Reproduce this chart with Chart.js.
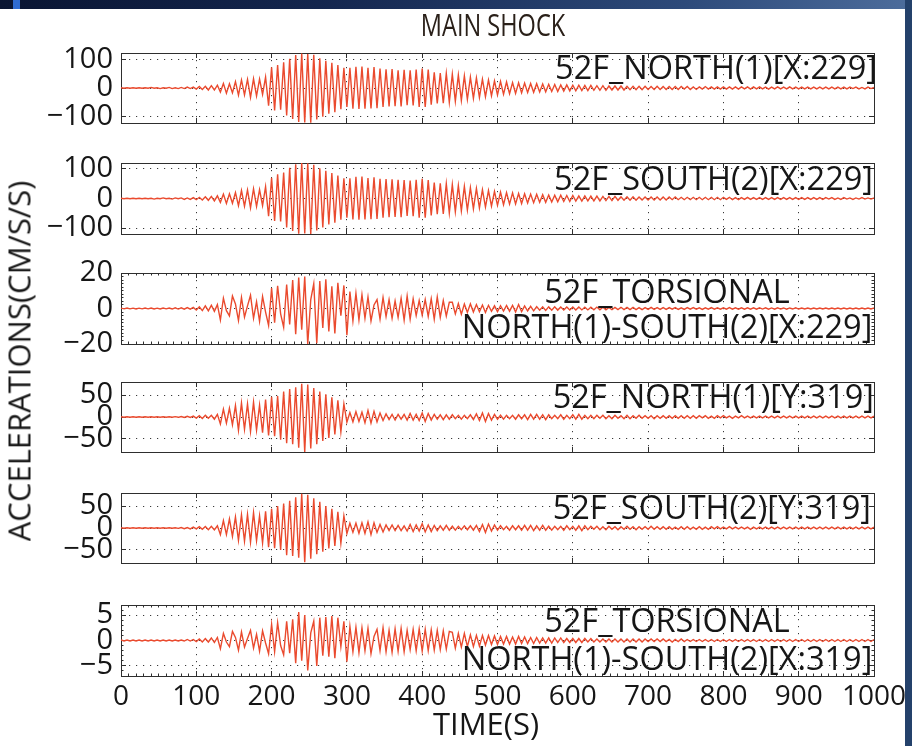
<!DOCTYPE html>
<html>
<head>
<meta charset="utf-8">
<script src="https://cdn.jsdelivr.net/npm/chart.js@4.4.1/dist/chart.umd.min.js"></script>
<style>
html,body{margin:0;padding:0;background:#fff;}
body{width:912px;height:746px;position:relative;overflow:hidden;font-family:'Open Sans',sans-serif;}
canvas{position:absolute;left:0;}
.t{position:absolute;color:#161616;white-space:nowrap;line-height:1;font-family:'Open Sans',sans-serif;}
#topbar{position:absolute;left:0;top:0;width:912px;height:9px;background:linear-gradient(to right,#0a1532 0%,#14264e 35%,#2d4a7a 75%,#4d6d9c 100%);}
#topmark{position:absolute;left:13px;top:0;width:7px;height:9px;background:#2f6bd0;}
#rightbar{position:absolute;left:905px;top:0;width:7px;height:746px;background:#24416b;}
</style>
</head>
<body>
<div id="topbar"></div><div id="topmark"></div><div id="rightbar"></div>
<div id="charts"></div>
<div class="t" style="left:493px;top:9px;font-size:31px;color:#2a2019;transform:translateX(-50%) scaleX(0.76);">MAIN SHOCK</div>
<div class="t" style="right:35px;top:51px;font-size:32.5px;">52F_NORTH(1)[X:229]</div>
<div class="t" style="right:39px;top:162px;font-size:32.5px;">52F_SOUTH(2)[X:229]</div>
<div class="t" style="left:667px;top:273px;font-size:32.5px;line-height:35px;text-align:center;transform:translateX(-50%);">52F_TORSIONAL<br>NORTH(1)-SOUTH(2)[X:229]</div>
<div class="t" style="right:38px;top:380px;font-size:32.5px;">52F_NORTH(1)[Y:319]</div>
<div class="t" style="right:41px;top:491px;font-size:32.5px;">52F_SOUTH(2)[Y:319]</div>
<div class="t" style="left:667px;top:601px;font-size:32.5px;line-height:38px;text-align:center;transform:translateX(-50%);">52F_TORSIONAL<br>NORTH(1)-SOUTH(2)[X:319]</div>
<div class="t" style="left:19px;top:361px;font-size:31px;transform:translate(-50%,-50%) rotate(-90deg);">ACCELERATIONS(CM/S/S)</div>
<div class="t" style="left:486px;top:708px;font-size:31px;transform:translateX(-50%);">TIME(S)</div>
<script>
// ---- data ----
const STEP = 4; // seconds between successive samples
const TIME_TICKS = [0,100,200,300,400,500,600,700,800,900,1000];

const NORTH1_X = [
1,-1,1,-1,1,-1,1,-1,1,-1,
2,-1,1,-2,1,-1,2,-2,1,-2,
2,-2,3,-2,3,-4,5,-5,6,-7,
8,-7,10,-14,16,-18,15,-17,22,-25,
28,-24,30,-33,32,-28,31,-22,38,-62,
72,-78,80,-76,90,-96,102,-108,115,-118,
120,-120,118,-121,116,-110,104,-100,95,-90,
88,-84,80,-74,70,-66,70,-72,74,-73,
75,-72,70,-71,73,-70,68,-66,65,-64,
66,-63,62,-64,63,-60,62,-61,64,-66,
68,-66,64,-58,55,-54,52,-53,51,-50,
48,-46,45,-43,42,-40,38,-36,35,-33,
31,-30,28,-27,25,-24,23,-22,21,-20,
19,-19,18,-17,17,-16,16,-15,15,-14,
14,-13,13,-12,12,-12,11,-11,11,-10,
10,-10,10,-9,9,-9,9,-8,8,-8,
8,-8,7,-7,7,-7,7,-7,6,-6,
6,-6,6,-6,6,-5,5,-5,6,-5,
5,-5,5,-5,5,-5,5,-4,5,-5,
4,-5,4,-4,5,-4,4,-4,4,-4,
4,-4,4,-4,4,-4,4,-3,4,-4,
4,-3,4,-3,3,-4,3,-3,4,-3,
3,-3,4,-3,3,-3,3,-3,3,-3,
3,-3,3,-3,3,-3,3,-3,3,-3,
3,-3,3,-2,3,-3,2,-3,3,-2,
2];

const SOUTH2_X = [
1,-1,1,-1,1,-1,1,-1,1,-1,
1,-2,1,-1,2,-1,1,-2,2,-1,
2,-3,2,-3,3,-4,4,-5,6,-6,
7,-8,9,-13,15,-17,16,-16,20,-24,
27,-26,29,-32,33,-27,30,-24,40,-60,
70,-76,82,-78,88,-98,104,-110,116,-119,
121,-118,119,-120,114,-108,102,-98,94,-88,
86,-82,78,-72,68,-65,68,-71,73,-72,
74,-71,69,-70,72,-69,67,-65,66,-63,
65,-62,63,-63,62,-59,61,-60,63,-65,
67,-65,62,-57,54,-53,51,-52,50,-49,
47,-45,44,-42,41,-39,37,-35,34,-32,
30,-29,27,-26,24,-23,22,-21,20,-19,
19,-18,17,-17,16,-15,15,-14,14,-13,
13,-13,12,-12,11,-11,11,-10,10,-10,
10,-9,9,-9,9,-8,8,-8,8,-8,
7,-7,7,-7,7,-6,6,-6,6,-6,
6,-6,5,-5,5,-5,5,-5,5,-5,
5,-5,5,-4,5,-4,4,-4,4,-4,
4,-4,4,-4,4,-4,4,-4,4,-4,
4,-3,4,-4,3,-4,3,-3,4,-3,
3,-3,3,-3,3,-3,3,-3,3,-3,
3,-3,3,-3,3,-3,3,-3,3,-3,
3,-3,3,-3,3,-2,3,-3,2,-3,
3,-2,2,-3,2,-2,3,-2,2,-2,
2];

const TORSION_X = [
0.2,-0.2,0.3,-0.2,0.2,-0.3,0.2,-0.2,0.3,-0.2,
0.3,-0.3,0.2,-0.3,0.3,-0.2,0.3,-0.3,0.4,-0.3,
0.4,-0.4,0.5,-0.4,0.6,-0.8,1.0,-1.2,1.5,-1.3,
1.8,-1.6,2.2,-6.5,5.8,-1.2,-4.2,7.0,2.5,-6.8,
6.2,-4.8,1.5,7.5,-5.5,3.8,-7.2,6.8,-2.0,-9.5,
11.5,-8.0,12.8,-3.0,-10.5,13.5,-9.0,16.0,-14.5,17.5,
-12.0,18.0,-20.0,5.0,14.0,-19.5,15.5,-11.0,16.5,-13.0,
12.5,-14.0,14.5,-4.0,13.0,-15.0,9.5,-7.0,8.5,-6.5,
7.8,-5.5,6.5,-7.0,2.0,5.0,-6.0,6.2,-4.5,5.0,
-5.5,4.2,-5.0,5.8,-6.5,7.0,-6.0,5.5,-4.0,4.5,
-3.8,5.0,-4.5,5.5,-6.0,6.5,-5.0,4.5,-4.2,3.5,
3.5,-3.0,2.8,-3.2,2.5,-2.2,2.6,-2.0,2.2,-1.8,
2.0,-2.2,1.8,-1.6,1.5,-1.8,1.6,-1.4,1.7,-1.5,
1.8,-2.0,2.2,-1.8,1.5,-1.4,1.2,-1.3,1.1,-1.0,
1.0,-1.1,0.9,-1.0,1.0,-0.9,0.9,-0.8,0.9,-0.8,
0.8,-0.9,0.8,-0.8,0.7,-0.8,0.7,-0.7,0.8,-0.7,
0.7,-0.7,0.6,-0.7,0.6,-0.6,0.7,-0.6,0.6,-0.6,
0.6,-0.6,0.5,-0.6,0.5,-0.5,0.6,-0.5,0.5,-0.5,
0.5,-0.5,0.5,-0.4,0.5,-0.5,0.4,-0.5,0.5,-0.4,
0.5,-0.4,0.4,-0.5,0.4,-0.4,0.5,-0.4,0.4,-0.4,
0.4,-0.4,0.5,-0.4,0.4,-0.4,0.4,-0.4,0.4,-0.4,
0.4,-0.4,0.4,-0.3,0.4,-0.4,0.3,-0.4,0.4,-0.3,
0.3,-0.4,0.3,-0.3,0.4,-0.3,0.3,-0.3,0.3,-0.3,
0.3,-0.3,0.3,-0.3,0.3,-0.3,0.3,-0.3,0.3,-0.3,
0.3,-0.3,0.3,-0.3,0.3,-0.3,0.3,-0.3,0.3,-0.3,
0.3];

const NORTH1_Y = [
0.5,-0.5,0.5,-0.5,0.5,-0.5,0.5,-0.5,0.5,-0.5,
0.6,-0.5,0.6,-0.6,0.5,-0.6,0.7,-0.6,0.8,-0.7,
1,-1,1.5,-1,2,-2.5,3,-3.5,4,-3,
4,-5,6,-16,18,-14,20,-18,26,-30,
32,-28,30,-33,34,-30,27,-36,40,-42,
46,-44,48,-52,58,-60,64,-62,68,-70,
76,-80,74,-72,66,-62,58,-55,52,-48,
45,-40,38,-34,30,-12,10,-11,12,-10,
11,-13,15,-14,13,-11,9,-8,7,-6,
6,-7,6,-5,6,-7,8,-7,6,-8,
9,-10,8,-7,6,-5,5,-6,5,-5,
5,-4,4,-5,4,-4,5,-6,7,-8,
9,-10,8,-7,6,-5,4,-5,4,-4,
4,-5,5,-4,5,-6,6,-5,6,-5,
5,-6,5,-4,4,-4,5,-5,4,-4,
5,-5,6,-5,4,-4,4,-4,4,-3,
4,-4,3,-4,4,-3,3,-4,4,-4,
3,-3,4,-3,3,-3,3,-4,3,-3,
3,-3,3,-3,3,-3,3,-3,3,-3,
3,-3,3,-2,3,-3,2,-3,3,-2,
3,-2,2,-3,2,-2,3,-2,2,-2,
2,-2,2,-2,2,-2,2,-2,2,-2,
2,-2,2,-2,2,-2,2,-2,2,-2,
2,-2,2,-2,2,-2,2,-2,2,-2,
2,-2,2,-2,2,-2,2,-2,2,-2,
2];

const SOUTH2_Y = [
0.5,-0.5,0.5,-0.5,0.5,-0.5,0.5,-0.5,0.5,-0.5,
0.5,-0.6,0.6,-0.5,0.6,-0.6,0.6,-0.7,0.7,-0.8,
1,-1.5,1,-2,2,-2,3,-3,3.5,-4,
4,-4.5,5,-15,17,-15,21,-19,25,-28,
30,-30,31,-32,35,-29,28,-34,38,-44,
44,-46,50,-50,56,-62,62,-64,70,-68,
78,-78,76,-70,68,-60,60,-54,50,-47,
44,-41,37,-35,28,-13,11,-10,11,-12,
12,-12,14,-15,12,-10,8,-9,7,-6,
7,-6,6,-6,5,-7,8,-8,7,-7,
10,-9,7,-8,6,-6,5,-5,6,-5,
4,-5,4,-4,5,-4,5,-5,6,-8,
8,-10,9,-7,7,-5,5,-4,4,-5,
5,-4,5,-5,6,-5,6,-6,5,-5,
6,-5,4,-5,4,-4,4,-5,5,-4,
4,-5,5,-6,5,-4,4,-3,4,-4,
3,-4,4,-3,3,-4,3,-3,4,-3,
3,-4,3,-3,3,-3,4,-3,3,-3,
3,-3,3,-3,2,-3,3,-3,3,-3,
2,-3,3,-3,2,-3,3,-2,3,-2,
2,-2,3,-2,2,-2,2,-2,2,-3,
2,-2,2,-2,2,-2,2,-2,2,-2,
2,-2,2,-2,2,-2,2,-2,2,-2,
2,-2,2,-2,2,-2,2,-2,2,-2,
2,-2,2,-2,2,-2,2,-2,2,-2,
2];

const TORSION_Y = [
0.1,-0.1,0.1,-0.1,0.1,-0.1,0.1,-0.1,0.1,-0.1,
0.1,-0.1,0.1,-0.1,0.1,-0.1,0.1,-0.1,0.1,-0.1,
0.1,-0.1,0.2,-0.1,0.2,-0.2,0.3,-0.3,0.4,-0.3,
0.5,-0.4,0.6,-1.6,1.4,-0.3,-1.2,1.8,0.6,-1.9,
1.7,-1.3,0.4,2.0,-1.5,1.2,-2.1,1.9,-0.5,-2.6,
3.2,-2.2,3.5,-1.0,-2.8,3.8,-2.5,4.2,-4.5,5.6,
-4.0,5.0,-5.9,1.5,3.8,-5.0,4.5,-3.0,4.6,-3.2,
4.8,-3.5,4.5,-1.2,3.8,-4.2,2.8,-2.2,2.6,-2.4,
2.5,-2.0,2.4,-2.6,0.8,2.2,-2.0,2.5,-2.2,2.0,
-2.3,2.3,-2.1,2.4,-2.2,2.0,-1.8,2.2,-2.0,2.3,
-2.1,2.2,-2.0,2.1,-1.9,2.0,-1.8,1.9,-1.7,1.8,
1.6,-1.5,1.4,-1.3,1.4,-1.2,1.1,-1.2,1.0,-1.1,
1.0,-0.9,1.0,-0.8,0.9,-0.8,0.8,-0.7,0.8,-0.7,
0.7,-0.7,0.8,-0.6,0.7,-0.6,0.6,-0.6,0.6,-0.5,
0.5,-0.5,0.5,-0.5,0.5,-0.4,0.5,-0.4,0.4,-0.4,
0.4,-0.4,0.4,-0.4,0.4,-0.3,0.4,-0.3,0.3,-0.3,
0.3,-0.3,0.3,-0.3,0.3,-0.3,0.3,-0.3,0.3,-0.3,
0.3,-0.3,0.3,-0.3,0.3,-0.2,0.3,-0.2,0.3,-0.2,
0.3,-0.2,0.2,-0.3,0.2,-0.2,0.3,-0.2,0.2,-0.2,
0.2,-0.2,0.2,-0.2,0.2,-0.2,0.2,-0.2,0.2,-0.2,
0.2,-0.2,0.2,-0.2,0.2,-0.2,0.2,-0.2,0.2,-0.2,
0.2,-0.2,0.2,-0.2,0.2,-0.2,0.2,-0.2,0.2,-0.2,
0.2,-0.2,0.2,-0.2,0.2,-0.2,0.2,-0.2,0.2,-0.2,
0.2,-0.2,0.2,-0.2,0.2,-0.2,0.2,-0.2,0.2,-0.2,
0.2,-0.2,0.2,-0.2,0.2,-0.2,0.2,-0.2,0.2,-0.2,
0.2];

const TICKS_100 = [-100, 0, 100];
const TICKS_20  = [-20, 0, 20];
const TICKS_50  = [-50, 0, 50];
const TICKS_5   = [-5, 0, 5];
const Y_LIMITS  = [122, 120, 20, 80, 80, 7];

// ---- layout / style ----
const FONT = "'Open Sans', sans-serif";
const WAVE = '#ea4a2e';
const FRAME = '#2e2e2e';
const GRID = '#3a3a3a';
const PLOT_LEFT = 121, PLOT_RIGHT = 874, W = 912, PAD = 22;
const PANEL_TOP = [53, 163, 273, 382, 493, 605];
const PANEL_BOTTOM = [123, 234, 344, 452, 563, 676];

const SERIES = [NORTH1_X, SOUTH2_X, TORSION_X, NORTH1_Y, SOUTH2_Y, TORSION_Y];
const YTICKS = [TICKS_100, TICKS_100, TICKS_20, TICKS_50, TICKS_50, TICKS_5];
const MINOR = [0, 0, 2, 0, 0, 1];

Chart.defaults.font.family = FONT;
Chart.defaults.color = '#161616';

function fmt(v){ return v < 0 ? '\u2212' + (-v) : String(v); }

function fixW(w){ return s => { s.width = w; s.paddingTop = 0; s.paddingBottom = 0; }; }
function fixH(h){ return s => { s.height = h; s.paddingLeft = 0; s.paddingRight = 0; }; }

const holder = document.getElementById('charts');
SERIES.forEach((vals, p) => {
  const last = p === SERIES.length - 1;
  const ph = PANEL_BOTTOM[p] - PANEL_TOP[p];
  const xh = last ? 48 : 0;
  const H = PAD + ph + xh + (last ? 0 : PAD);
  const cv = document.createElement('canvas');
  cv.width = W; cv.height = H;
  cv.style.top = (PANEL_TOP[p] - PAD) + 'px';
  cv.style.width = W + 'px'; cv.style.height = H + 'px';
  holder.appendChild(cv);
  const lim = Y_LIMITS[p];
  const ticks = YTICKS[p];
  const setTicks = s => { s.ticks = ticks.map(v => ({value: v})); };
  const scales = {
    x: {
      type: 'linear', position: 'bottom', min: 0, max: 1000,
      afterBuildTicks: s => { s.ticks = TIME_TICKS.map(v => ({value: v})); },
      ticks: { display: last, font: {size: 28}, color: '#161616', padding: 9, maxRotation: 0, autoSkip: false, callback: v => String(v) },
      grid: { color: GRID, lineWidth: 1, drawTicks: true, tickLength: -5, tickColor: FRAME },
      border: { display: true, color: FRAME, width: 1, dash: [1.2, 5.8] },
      afterFit: fixH(xh)
    },
    xt: {
      type: 'linear', position: 'top', min: 0, max: 1000,
      afterBuildTicks: s => { s.ticks = TIME_TICKS.map(v => ({value: v})); },
      ticks: { display: false },
      grid: { drawOnChartArea: false, drawTicks: true, tickLength: -5, tickColor: FRAME },
      border: { display: true, color: FRAME, width: 1 },
      afterFit: fixH(0)
    },
    y: {
      type: 'linear', position: 'left', min: -lim, max: lim,
      afterBuildTicks: setTicks,
      ticks: { font: {size: 29}, color: '#161616', padding: 13, autoSkip: false, callback: v => fmt(v) },
      grid: { color: GRID, lineWidth: 1, drawTicks: true, tickLength: -5, tickColor: FRAME },
      border: { display: true, color: FRAME, width: 1, dash: [1.2, 5.8] },
      afterFit: fixW(PLOT_LEFT)
    },
    yr: {
      type: 'linear', position: 'right', min: -lim, max: lim,
      afterBuildTicks: setTicks,
      ticks: { display: false },
      grid: { drawOnChartArea: false, drawTicks: true, tickLength: -5, tickColor: FRAME },
      border: { display: true, color: FRAME, width: 1 },
      afterFit: fixW(0)
    }
  };
  if (MINOR[p]) {
    const minorX = pos => ({
      type: 'linear', position: pos, min: 0, max: 1000, weight: -1,
      ticks: { display: false, stepSize: 10 },
      grid: { drawOnChartArea: false, drawTicks: true, tickLength: -2.5, tickColor: FRAME },
      border: { display: false },
      afterFit: fixH(0)
    });
    const minorY = pos => ({
      type: 'linear', position: pos, min: -lim, max: lim, weight: -1,
      ticks: { display: false, stepSize: MINOR[p] },
      grid: { drawOnChartArea: false, drawTicks: true, tickLength: -2.5, tickColor: FRAME },
      border: { display: false },
      afterFit: fixW(0)
    });
    scales.mxb = minorX('bottom'); scales.mxt = minorX('top');
    scales.myl = minorY('left'); scales.myr = minorY('right');
  }
  new Chart(cv, {
    type: 'line',
    data: { datasets: [{
      data: vals.map((v, k) => ({x: k * STEP, y: v})),
      xAxisID: 'x', yAxisID: 'y',
      borderColor: WAVE, borderWidth: 1.4, pointRadius: 0, tension: 0, fill: false
    }]},
    options: {
      responsive: false, animation: false, devicePixelRatio: 1,
      layout: { padding: { top: PAD, bottom: last ? 0 : PAD, left: 0, right: W - PLOT_RIGHT } },
      plugins: { legend: {display: false}, tooltip: {enabled: false}, title: {display: false} },
      scales: scales
    }
  });
});
</script>
</body>
</html>
